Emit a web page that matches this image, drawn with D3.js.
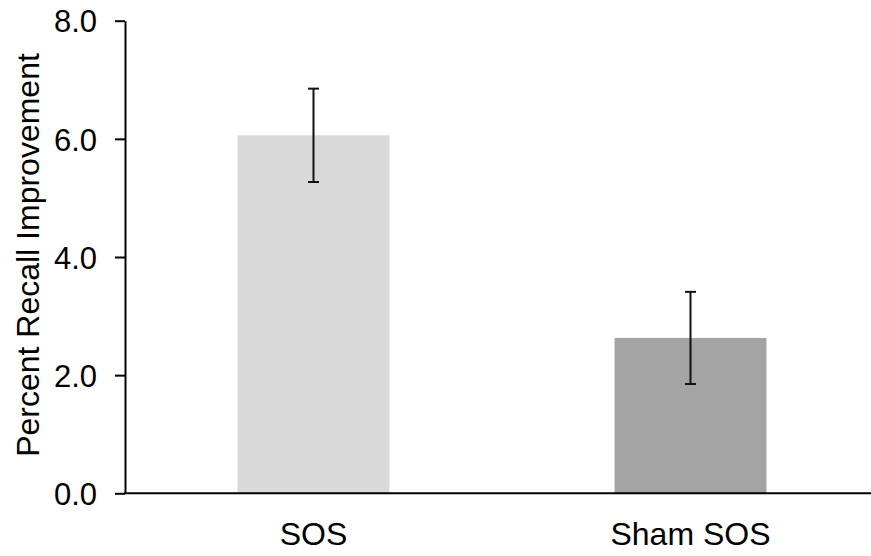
<!DOCTYPE html>
<html>
<head>
<meta charset="utf-8">
<script src="https://cdn.jsdelivr.net/npm/d3@7"></script>
<style>
  body { margin: 0; background: #fff; }
  svg text { font-family: "Liberation Sans", Arial, sans-serif; fill: #000; }
</style>
</head>
<body>
<div id="chart"></div>
<script>
const categories = ["SOS", "Sham SOS"];
const means = [6.06, 2.63];
const errHigh = [6.85, 3.41];
const errLow = [5.27, 1.85];
const barColors = ["#d9d9d9", "#a4a4a4"];
const yTicks = [0, 2, 4, 6, 8];
const yLabel = "Percent Recall Improvement";

const width = 871, height = 556;
const plotLeft = 125, plotBottom = 493.3, plotTop = 20.7;

const svg = d3.select("#chart").append("svg")
  .attr("width", width)
  .attr("height", height);

const x = d3.scaleBand()
  .domain(categories)
  .range([plotLeft, plotLeft + 754])
  .paddingInner(0.597)
  .paddingOuter(0.2985);

const y = d3.scaleLinear()
  .domain([0, 8])
  .range([plotBottom, plotTop]);

// bars
svg.append("g")
  .selectAll("rect")
  .data(categories)
  .join("rect")
  .attr("x", d => x(d))
  .attr("width", x.bandwidth())
  .attr("y", (d, i) => y(means[i]))
  .attr("height", (d, i) => y(0) - y(means[i]))
  .attr("fill", (d, i) => barColors[i]);

// error bars
const err = svg.append("g")
  .attr("stroke", "#111")
  .attr("stroke-width", 2)
  .selectAll("g")
  .data(categories)
  .join("g");

const cx = d => x(d) + x.bandwidth() / 2;
err.append("line")
  .attr("x1", cx).attr("x2", cx)
  .attr("y1", (d, i) => y(errHigh[i]))
  .attr("y2", (d, i) => y(errLow[i]));
err.append("line")
  .attr("x1", d => cx(d) - 5.5).attr("x2", d => cx(d) + 5.5)
  .attr("y1", (d, i) => y(errHigh[i]))
  .attr("y2", (d, i) => y(errHigh[i]));
err.append("line")
  .attr("x1", d => cx(d) - 5.5).attr("x2", d => cx(d) + 5.5)
  .attr("y1", (d, i) => y(errLow[i]))
  .attr("y2", (d, i) => y(errLow[i]));

// y axis
const yAxis = svg.append("g")
  .attr("transform", `translate(${plotLeft},0)`)
  .call(d3.axisLeft(y).tickValues(yTicks).tickFormat(d3.format(".1f"))
    .tickSize(10).tickSizeOuter(0).tickPadding(18));
yAxis.select(".domain").attr("stroke", "#000").attr("stroke-width", 2);
yAxis.selectAll(".tick line").attr("stroke", "#000").attr("stroke-width", 2);
yAxis.selectAll(".tick text").attr("font-size", 31).attr("dy", "0.36em");

// x axis line (no ticks)
svg.append("line")
  .attr("x1", plotLeft - 1).attr("x2", width)
  .attr("y1", y(0)).attr("y2", y(0))
  .attr("stroke", "#000").attr("stroke-width", 2);

// category labels
svg.append("g")
  .selectAll("text")
  .data(categories)
  .join("text")
  .attr("x", cx)
  .attr("y", 545)
  .attr("text-anchor", "middle")
  .attr("font-size", 32)
  .text(d => d);

// y label
svg.append("text")
  .attr("transform", "translate(39,255) rotate(-90)")
  .attr("text-anchor", "middle")
  .attr("font-size", 32)
  .text(yLabel);
</script>
</body>
</html>
